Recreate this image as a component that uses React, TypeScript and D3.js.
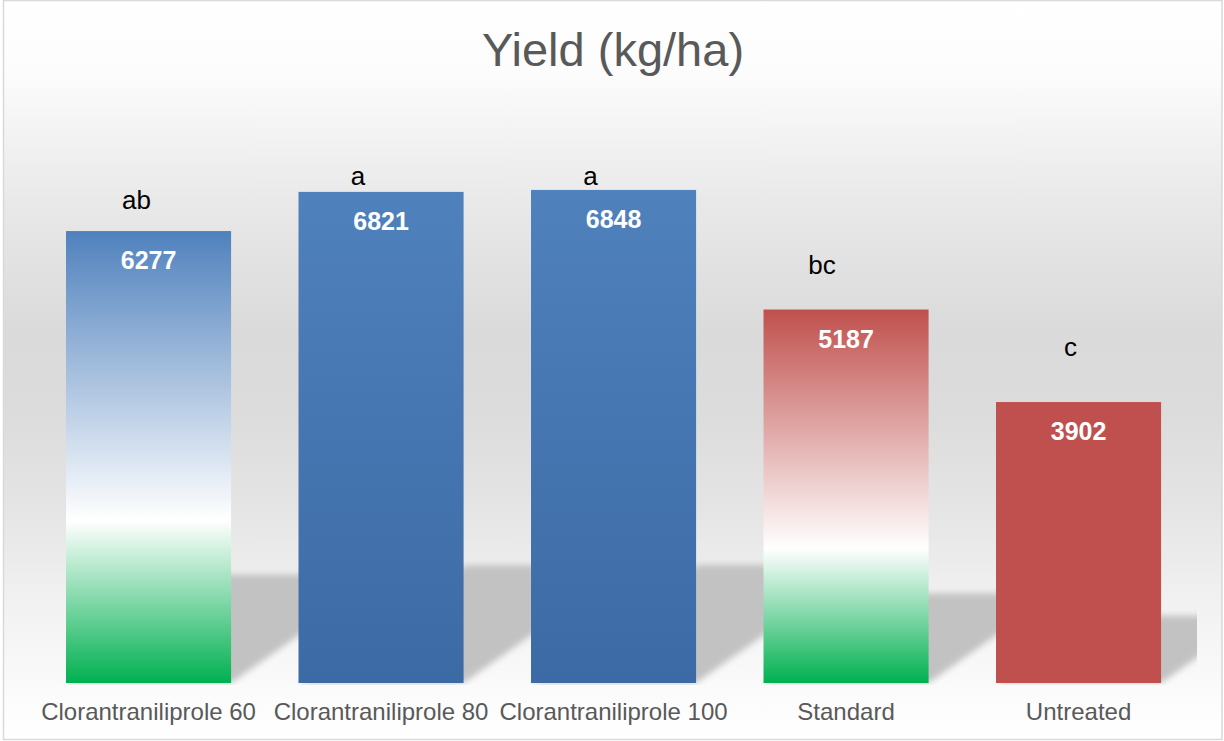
import React from "react";
import * as d3 from "d3";

// Yield per treatment (kg/ha)
const categories = [
  "Clorantraniliprole 60",
  "Clorantraniliprole 80",
  "Clorantraniliprole 100",
  "Standard",
  "Untreated",
];
const yields = [6277, 6821, 6848, 5187, 3902];
// Statistical grouping letters and the height (kg/ha) at which each is placed
const groupLetters = ["ab", "a", "a", "bc", "c"];
const letterHeights = [6583, 6917, 6917, 5681, 4542];

const W = 1224;
const H = 741;
const BASE = 683;

const barFills = ["url(#gBlueGreen)", "url(#gBlue)", "url(#gBlue)", "url(#gRedGreen)", "#c0504d"];
// horizontal nudge of each letter box from its bar centre
const letterNudge = [-12, -23, -23, -24, -8];

export default function App() {
  const x = d3
    .scaleBand<string>()
    .domain(categories)
    .range([32.3, 1194.8])
    .paddingInner(0.29)
    .paddingOuter(0.145);
  const y = d3.scaleLinear().domain([0, 8000]).range([BASE, 107]);

  // perspective shadow: a flattened, skewed copy of each bar lying behind it
  const shadowK = 0.24;
  const shadowSkew = 0.34;
  const shadowPath = (c: string, v: number) => {
    const x0 = x(c)!;
    const x1 = x0 + x.bandwidth();
    const h = BASE - y(v);
    const top = BASE - shadowK * h;
    const s = shadowSkew * h;
    const p = d3.path();
    p.moveTo(x0, BASE);
    p.lineTo(x1, BASE);
    p.lineTo(x1 + s, top);
    p.lineTo(x0 + s, top);
    p.closePath();
    return p.toString();
  };

  const font = "'Liberation Sans', Arial, sans-serif";

  return (
    <svg
      width={W}
      height={H}
      style={{ position: "absolute", left: 0, top: 0, fontFamily: font }}
    >
      <defs>
        <linearGradient id="gBg" x1="0" y1="0" x2="0" y2="1">
          <stop offset="0" stopColor="#ffffff" />
          <stop offset="0.1" stopColor="#fcfcfc" />
          <stop offset="0.27" stopColor="#e9e9e9" />
          <stop offset="0.45" stopColor="#dadada" />
          <stop offset="0.56" stopColor="#dcdcdc" />
          <stop offset="0.68" stopColor="#e4e4e4" />
          <stop offset="0.81" stopColor="#f1f1f1" />
          <stop offset="0.95" stopColor="#fcfcfc" />
          <stop offset="1" stopColor="#ffffff" />
        </linearGradient>
        <linearGradient id="gBlueGreen" x1="0" y1="0" x2="0" y2="1">
          <stop offset="0" stopColor="#4f81bd" />
          <stop offset="0.64" stopColor="#ffffff" />
          <stop offset="1" stopColor="#00b050" />
        </linearGradient>
        <linearGradient id="gRedGreen" x1="0" y1="0" x2="0" y2="1">
          <stop offset="0" stopColor="#c0504d" />
          <stop offset="0.64" stopColor="#ffffff" />
          <stop offset="1" stopColor="#00b050" />
        </linearGradient>
        <linearGradient id="gBlue" x1="0" y1="0" x2="0" y2="1">
          <stop offset="0" stopColor="#4f81bd" />
          <stop offset="1" stopColor="#3c6aa4" />
        </linearGradient>
        <filter id="fShadow" x="-20%" y="-20%" width="140%" height="140%">
          <feGaussianBlur stdDeviation="3" />
        </filter>
        <clipPath id="cPlot">
          <rect x={32} y={100} width={1165} height={BASE - 100 + 2} />
        </clipPath>
      </defs>

      <rect x={3.5} y={0.5} width={1218.5} height={739} fill="url(#gBg)" stroke="#d9d9d9" strokeWidth={1.5} />

      <text x={613} y={66} textAnchor="middle" fontSize={47} fill="#595959">
        Yield (kg/ha)
      </text>

      <g clipPath="url(#cPlot)">
        {categories.map((c, i) => (
          <path key={c} d={shadowPath(c, yields[i])} fill="#c2c2c2" filter="url(#fShadow)" />
        ))}
      </g>

      {categories.map((c, i) => (
        <rect
          key={c}
          x={x(c)}
          y={y(yields[i])}
          width={x.bandwidth()}
          height={BASE - y(yields[i])}
          fill={barFills[i]}
        />
      ))}

      {categories.map((c, i) => (
        <text
          key={c}
          x={x(c)! + x.bandwidth() / 2}
          y={y(yields[i]) + 38}
          textAnchor="middle"
          fontSize={25}
          fontWeight="bold"
          fill="#ffffff"
        >
          {yields[i]}
        </text>
      ))}

      {categories.map((c, i) => (
        <text
          key={c}
          x={x(c)! + x.bandwidth() / 2 + letterNudge[i]}
          y={y(letterHeights[i])}
          textAnchor="middle"
          fontSize={26}
          fill="#000000"
        >
          {groupLetters[i]}
        </text>
      ))}

      {categories.map((c) => (
        <text
          key={c}
          x={x(c)! + x.bandwidth() / 2}
          y={719.5}
          textAnchor="middle"
          fontSize={24}
          fill="#595959"
        >
          {c}
        </text>
      ))}
    </svg>
  );
}
